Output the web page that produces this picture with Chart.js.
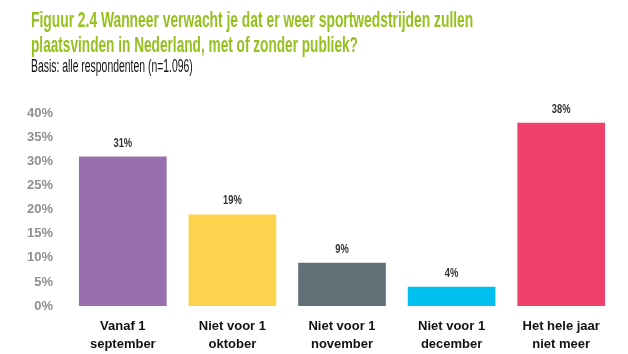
<!DOCTYPE html>
<html>
<head>
<meta charset="utf-8">
<script src="https://cdn.jsdelivr.net/npm/chart.js@4"></script>
<style>
  body { margin: 0; background: #fff; }
  .wrap { position: relative; width: 628px; height: 354px; overflow: hidden; }
  .line { position: absolute; left: 31px; white-space: nowrap; transform-origin: 0 0;
          font-family: "Liberation Sans", "DejaVu Sans Condensed", sans-serif; }
  .title { color: #95c11f; font-weight: bold; font-size: 22px; line-height: 25px; }
  .sub { color: #111; font-size: 18px; line-height: 20px; }
  canvas { position: absolute; left: 0; top: 0; }
</style>
</head>
<body>
<div class="wrap">
  <canvas id="chart" width="628" height="356"></canvas>
  <span class="line title" style="top:7px" data-w="442">Figuur 2.4 Wanneer verwacht je dat er weer sportwedstrijden zullen</span>
  <span class="line title" style="top:32px" data-w="327">plaatsvinden in Nederland, met of zonder publiek?</span>
  <span class="line sub" style="top:56px" data-w="162">Basis: alle respondenten (n=1.096)</span>
</div>
<script>
const categories = [
  ['Vanaf 1', 'september'],
  ['Niet voor 1', 'oktober'],
  ['Niet voor 1', 'november'],
  ['Niet voor 1', 'december'],
  ['Het hele jaar', 'niet meer']
];
const values = [31, 19, 9, 4, 38];
const barColors = ['#9970ad', '#fdd34d', '#617177', '#00bfef', '#ef416c'];

const fontFamily = '"Liberation Sans", "DejaVu Sans Condensed", sans-serif';

// squeeze header lines to the condensed width of the original
document.querySelectorAll('.line').forEach(el => {
  const s = el.dataset.w / el.offsetWidth;
  el.style.transform = 'scaleX(' + s + ')';
});

// value labels above bars
const valueLabels = {
  id: 'valueLabels',
  afterDatasetsDraw(chart) {
    const ctx = chart.ctx;
    const meta = chart.getDatasetMeta(0);
    ctx.save();
    ctx.font = 'bold 13px ' + fontFamily;
    ctx.fillStyle = '#333';
    ctx.textAlign = 'center';
    ctx.textBaseline = 'bottom';
    meta.data.forEach((bar, i) => {
      ctx.save();
      ctx.translate(bar.x, bar.y - 7);
      ctx.scale(0.72, 1);
      ctx.fillText(values[i] + '%', 0, 0);
      ctx.restore();
    });
    ctx.restore();
  }
};

new Chart(document.getElementById('chart'), {
  type: 'bar',
  data: {
    labels: categories,
    datasets: [{
      data: values,
      backgroundColor: barColors,
      barPercentage: 0.8,
      categoryPercentage: 1.0
    }]
  },
  options: {
    responsive: false,
    animation: false,
    layout: { padding: { top: 113, left: 0, right: 12, bottom: 0 } },
    plugins: {
      legend: { display: false },
      tooltip: { enabled: false }
    },
    scales: {
      x: {
        grid: { display: false },
        border: { display: false },
        ticks: {
          color: '#111',
          font: { family: fontFamily, size: 13, weight: 'bold', lineHeight: 1.38 },
          padding: 3,
          maxRotation: 0,
          autoSkip: false
        }
      },
      y: {
        min: 0,
        max: 40,
        grid: { display: false },
        border: { display: false },
        afterFit: scale => { scale.width = 68; },
        ticks: {
          stepSize: 5,
          color: '#8f8f8f',
          padding: 7,
          font: { family: fontFamily, size: 13, weight: 'bold' },
          callback: v => v + '%'
        }
      }
    }
  },
  plugins: [valueLabels]
});
</script>
</body>
</html>
